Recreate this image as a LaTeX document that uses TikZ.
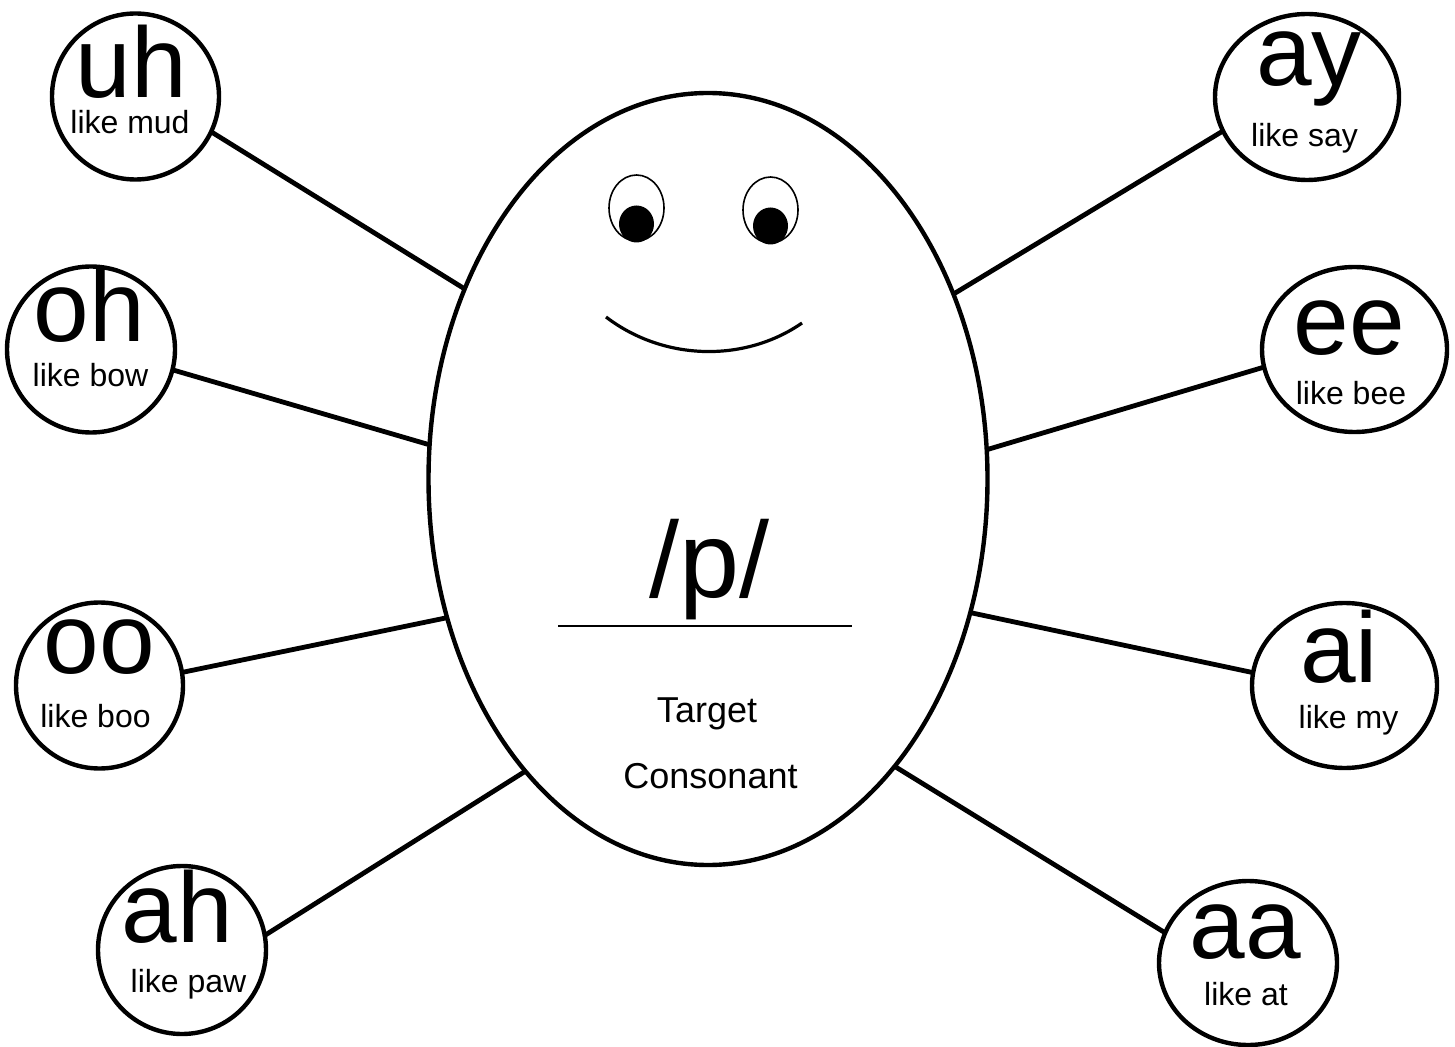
\documentclass[tikz,border=0pt]{standalone}
\usepackage{fontspec}
\setmainfont{Liberation Sans}
\usetikzlibrary{shapes.geometric}
\tikzset{
  vowel/.style={draw, ellipse, line width=2.2pt, inner sep=0pt, outer sep=0pt, fill=white},
  bodyshape/.style={draw, ellipse, line width=2.2pt, inner sep=0pt, outer sep=0pt, fill=white},
  bigtxt/.style={anchor=base, inner sep=0pt, text depth=0pt, font=\fontsize{50}{50}\selectfont},
  smalltxt/.style={anchor=base, inner sep=0pt, font=\fontsize{16}{16}\selectfont},
  midtxt/.style={anchor=base, inner sep=0pt, font=\fontsize{18}{18}\selectfont},
  conn/.style={line width=2.4pt},
}
\begin{document}
\begin{tikzpicture}[x=0.5pt,y=-0.5pt]
\useasboundingbox[fill=white] (0,0) rectangle (1455,1047);
% central body
\node[bodyshape, minimum width=279.5pt, minimum height=386pt] (body) at (708,479) {};
% vowel circles
\node[vowel, minimum width=83.5pt, minimum height=83pt] (uh) at (135.5,96.5) {};
\node[vowel, minimum width=84pt, minimum height=83pt] (oh) at (91,349.5) {};
\node[vowel, minimum width=83.5pt, minimum height=83pt] (oo) at (99.5,685.5) {};
\node[vowel, minimum width=84pt, minimum height=84pt] (ah) at (182,950) {};
\node[vowel, minimum width=92pt, minimum height=83pt] (ay) at (1307,97) {};
\node[vowel, minimum width=92.5pt, minimum height=82.5pt] (ee) at (1354.5,349.5) {};
\node[vowel, minimum width=92.5pt, minimum height=82.5pt] (ai) at (1344.5,685.5) {};
\node[vowel, minimum width=89pt, minimum height=82pt] (aa) at (1248,963) {};
% connectors
\draw[conn] (uh.-25.2) -- (body.142.9);
\draw[conn] (oh.-14) -- (body.173.7);
\draw[conn] (oo.9.2) -- (body.-152.7);
\draw[conn] (ah.10.2) -- (body.-122.3);
\draw[conn] (ay.202.9) -- (body.37.3);
\draw[conn] (ee.191.4) -- (body.6.5);
\draw[conn] (ai.172.3) -- (body.-27.2);
\draw[conn] (aa.160.1) -- (body.-57);
% labels
\node[bigtxt] (uhT) at (131.5,98) {uh};
\node[smalltxt] (uhS) at (130,134) {like mud};
\node[bigtxt] (ohT) at (89.5,342) {oh};
\node[smalltxt] (ohS) at (90.5,387) {like bow};
\node[bigtxt] (ooT) at (99.5,673) {oo};
\node[smalltxt] (ooS) at (95.5,727) {like boo};
\node[bigtxt] (ahT) at (177.5,942) {ah};
\node[smalltxt] (ahS) at (188.5,992) {like paw};
\node[bigtxt] (ayT) at (1309,86) {ay};
\node[smalltxt] (ayS) at (1304.5,147) {like say};
\node[bigtxt] (eeT) at (1349,355) {ee};
\node[smalltxt] (eeS) at (1351,405) {like bee};
\node[bigtxt] (aiT) at (1339,682) {ai};
\node[smalltxt] (aiS) at (1348.5,728) {like my};
\node[bigtxt] (aaT) at (1245,958) {aa};
\node[smalltxt] (aaS) at (1246,1005) {like at};
% face
\draw[line width=0.8pt, fill=white] (636.5,208) ellipse [x radius=27.5, y radius=33];
\fill (636.5,224) ellipse [x radius=17.5, y radius=18.5];
\draw[line width=0.8pt, fill=white] (770.5,210) ellipse [x radius=27.5, y radius=33];
\fill (770.5,226) ellipse [x radius=17.5, y radius=18.5];
\draw[line width=1.6pt] (606,317) .. controls (665,362) and (746,362) .. (802,323);
% target consonant
\node[anchor=base, inner sep=0pt, font=\fontsize{54}{54}\selectfont] (pT) at (709.5,597) {/p/};
\draw[line width=1pt] (558,626) -- (852,626);
\node[midtxt] (tgt) at (707,722) {Target};
\node[midtxt] (cons) at (710.5,788) {Consonant};
\end{tikzpicture}
\end{document}
